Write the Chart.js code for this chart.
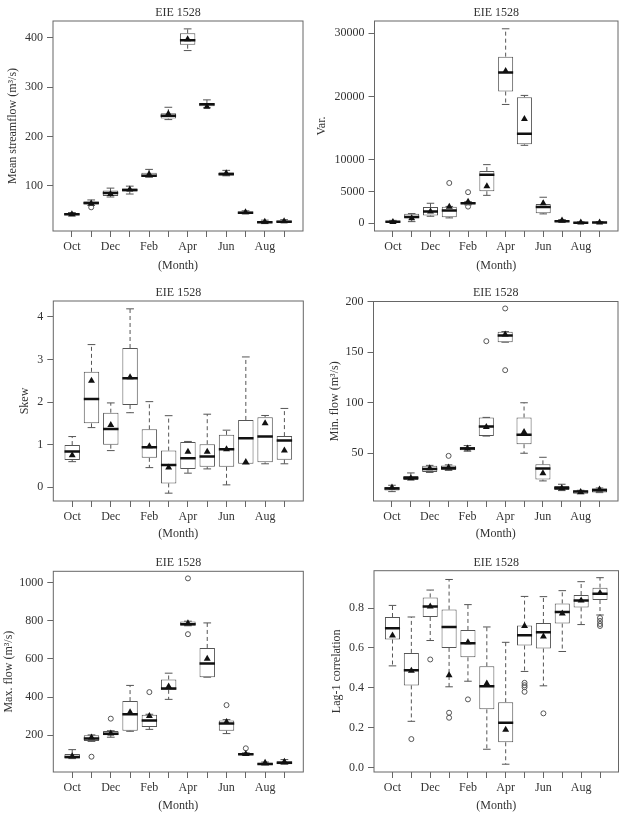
<!DOCTYPE html>
<html>
<head>
<meta charset="utf-8">
<script src="https://cdn.jsdelivr.net/npm/chart.js@4.4.1/dist/chart.umd.min.js"></script>
<style>
  body { margin: 0; background: #fff; width: 624px; height: 813px; position: relative; overflow: hidden; }
  canvas { position: absolute; }
</style>
</head>
<body>
<canvas id="pMean" width="312" height="273" style="left:0;top:0"></canvas>
<canvas id="pVar" width="312" height="273" style="left:312px;top:0"></canvas>
<canvas id="pSkew" width="312" height="270" style="left:0;top:271px"></canvas>
<canvas id="pMinf" width="312" height="270" style="left:312px;top:271px"></canvas>
<canvas id="pMaxf" width="312" height="271" style="left:0;top:542px"></canvas>
<canvas id="pLag" width="312" height="271" style="left:312px;top:542px"></canvas>
<script>
const months = ["Oct", "Nov", "Dec", "Jan", "Feb", "Mar", "Apr", "May", "Jun", "Jul", "Aug", "Sep"];
const monthTickLabels = ["Oct", "", "Dec", "", "Feb", "", "Apr", "", "Jun", "", "Aug", ""];

// mean streamflow
const meanMin = [38.5, 60, 77, 83, 117, 234, 374, 258, 120, 43, 23, 25];
const meanQ1 = [40, 62, 79, 88, 118, 236, 386, 261, 121, 43.5, 24, 25.5];
const meanMed = [42, 65, 85, 91, 120, 242, 395, 265, 123, 45, 26, 27];
const meanQ3 = [44, 68, 90, 94, 126, 247, 409, 267, 127, 47.5, 28, 29.5];
const meanMax = [45.5, 71, 95, 99, 133, 259, 418, 274, 131, 49, 30, 31];
const meanAvg = [42, 64, 83, 92, 123, 246, 397, 260, 125, 46, 27, 28];
const meanOut = [[1, 56]];
const meanTicks = [100, 200, 300, 400];

// variance
const varMin = [50, 250, 1100, 840, 2900, 4400, 18750, 12300, 1470, 150, 10, 20];
const varQ1 = [100, 780, 1200, 950, 3000, 5050, 20800, 12450, 1580, 200, 30, 50];
const varMed = [220, 1000, 1840, 2000, 3150, 7670, 23800, 14130, 2570, 320, 80, 100];
const varQ3 = [350, 1480, 2570, 2580, 3300, 8250, 26300, 19900, 3050, 420, 160, 180];
const varMax = [450, 1520, 3150, 2650, 3400, 9250, 30700, 20180, 4100, 580, 220, 250];
const varAvg = [200, 800, 1840, 2600, 3400, 5830, 24050, 16450, 3150, 430, 120, 130];
const varOut = [[3, 6350], [4, 4900], [4, 2620]];
const varTicks = [0, 5000, 10000, 20000, 30000];

// skew
const skewMin = [0.60, 1.40, 0.86, 1.75, 0.46, -0.14, 0.33, 0.43, 0.055, 0.54, 0.55, 0.55];
const skewQ1 = [0.64, 1.50, 1.00, 1.93, 0.69, 0.09, 0.43, 0.48, 0.48, 0.55, 0.585, 0.647];
const skewMed = [0.84, 2.07, 1.365, 2.56, 0.94, 0.52, 0.68, 0.72, 0.89, 1.15, 1.19, 1.10];
const skewQ3 = [0.99, 2.71, 1.75, 3.27, 1.36, 0.86, 1.06, 1.01, 1.23, 1.58, 1.645, 1.20];
const skewMax = [1.19, 3.35, 1.98, 4.19, 2.01, 1.68, 1.075, 1.715, 1.34, 3.06, 1.685, 1.85];
const skewAvg = [0.75, 2.50, 1.46, 2.58, 0.96, 0.46, 0.83, 0.83, 0.89, 0.59, 1.505, 0.86];
const skewOut = [];
const skewTicks = [0, 1, 2, 3, 4];

// min flow
const minfMin = [12, 23.6, 31, 33, 52, 67, 160, 50, 22.6, 13, 9.7, 11];
const minfQ1 = [13, 23.6, 31.5, 33.5, 53, 67, 160, 58.9, 23.9, 13.7, 10, 11];
const minfMed = [15, 25.6, 34.5, 35.5, 54.6, 76.4, 166.6, 68.2, 35, 15.6, 12, 13.3];
const minfQ3 = [16.6, 27.5, 37.5, 37.8, 56.3, 85.4, 170.3, 85.4, 39, 17.6, 13, 15.3];
const minfMax = [18.3, 30.5, 38, 38.5, 57.6, 85.5, 170.5, 100, 46, 19.3, 13.3, 15.6];
const minfAvg = [16, 25.2, 35.1, 35.8, 54.6, 76, 167.6, 71.1, 30.2, 15.3, 11.7, 14];
const minfOut = [[3, 47.4], [5, 161], [6, 193.4], [6, 132.3]];
const minfTicks = [50, 100, 150, 200];

// max flow
const maxfMin = [78, 168, 190, 221, 231, 388, 773, 504, 209, 95, 44, 48];
const maxfQ1 = [78.3, 170, 200, 224, 243, 438, 774, 504, 224, 96, 45, 49];
const maxfMed = [87, 183, 208, 310, 278, 445, 781, 576, 262, 101, 50, 57];
const maxfQ3 = [102.6, 200, 222, 379, 308, 492, 795, 657, 278, 106, 57, 64];
const maxfMax = [125, 202, 224, 461, 310, 525, 797, 788, 282, 108, 60, 73];
const maxfAvg = [90, 188, 209, 320, 301, 455, 786, 600, 270, 102.6, 57, 61];
const maxfOut = [[1, 88], [2, 287], [4, 426], [6, 1021], [6, 729], [8, 358], [9, 132]];
const maxfTicks = [200, 400, 600, 800, 1000];

// lag-1 correlation
const lagMin = [0.51, 0.232, 0.637, 0.405, 0.433, 0.092, 0.017, 0.482, 0.41, 0.582, 0.717, 0.765];
const lagQ1 = [0.642, 0.412, 0.755, 0.60, 0.553, 0.292, 0.127, 0.612, 0.597, 0.722, 0.803, 0.84];
const lagMed = [0.698, 0.488, 0.808, 0.705, 0.623, 0.408, 0.225, 0.663, 0.678, 0.78, 0.838, 0.872];
const lagQ3 = [0.755, 0.575, 0.853, 0.792, 0.69, 0.508, 0.328, 0.712, 0.725, 0.823, 0.865, 0.902];
const lagMax = [0.813, 0.755, 0.89, 0.943, 0.817, 0.705, 0.628, 0.858, 0.857, 0.887, 0.932, 0.952];
const lagAvg = [0.662, 0.485, 0.807, 0.463, 0.628, 0.422, 0.19, 0.71, 0.657, 0.772, 0.838, 0.875];
const lagOut = [[1, 0.143], [2, 0.542], [3, 0.275], [3, 0.25], [4, 0.342], [7, 0.425], [7, 0.413],
  [7, 0.403], [7, 0.38], [8, 0.272], [11, 0.75], [11, 0.735], [11, 0.72], [11, 0.71]];
const lagTicks = [0, 0.2, 0.4, 0.6, 0.8];

const TEXT = "#333";
const FRAME = "#666";
const BOXLINE = "#555";
const LH = 14.4;

Chart.defaults.font.family = '"Liberation Serif", "DejaVu Serif", serif';
Chart.defaults.font.size = 12;
Chart.defaults.color = TEXT;

const framePlugin = {
  id: "frame",
  afterDraw(chart) {
    const { ctx, chartArea: a } = chart;
    ctx.save();
    ctx.strokeStyle = FRAME;
    ctx.lineWidth = 1;
    ctx.strokeRect(a.left, a.top, a.right - a.left, a.bottom - a.top);
    ctx.restore();
  }
};

function vertSegments(from, to) {
  const d = [];
  months.forEach((m, i) => {
    d.push({ x: i, y: from[i] }, { x: i, y: to[i] }, { x: i, y: null });
  });
  return d;
}

function horizSegments(vals, half) {
  const d = [];
  months.forEach((m, i) => {
    d.push({ x: i - half, y: vals[i] }, { x: i + half, y: vals[i] }, { x: i, y: null });
  });
  return d;
}

function makePanel(p) {
  const W = 312;
  const segLine = (data, extra) => Object.assign({
    type: "line", data: data, borderColor: BOXLINE, borderWidth: 1,
    pointRadius: 0, fill: false, tension: 0, spanGaps: false
  }, extra);

  new Chart(document.getElementById(p.id), {
    type: "bar",
    data: {
      datasets: [
        segLine(vertSegments(p.q3, p.max), { borderDash: [4, 3], order: 6 }),
        segLine(vertSegments(p.q1, p.min), { borderDash: [4, 3], order: 6 }),
        segLine(horizSegments(p.max, 0.2), { order: 5 }),
        segLine(horizSegments(p.min, 0.2), { order: 5 }),
        {
          type: "bar",
          data: months.map((m, i) => ({ x: i, y: [p.q1[i], p.q3[i]] })),
          backgroundColor: "#fff",
          borderColor: BOXLINE,
          borderWidth: 1,
          borderSkipped: false,
          categoryPercentage: 0.8,
          barPercentage: 1,
          order: 4
        },
        segLine(horizSegments(p.med, 0.4), { borderColor: "#111", borderWidth: 2.5, order: 3 }),
        {
          type: "line", showLine: false,
          data: months.map((m, i) => ({ x: i, y: p.avg[i] })),
          pointStyle: "triangle", pointRadius: 4, pointBackgroundColor: "#111",
          pointBorderColor: "#111", pointBorderWidth: 0, order: 1
        },
        {
          type: "line", showLine: false,
          data: p.out.map(o => ({ x: o[0], y: o[1] })),
          pointStyle: "circle", pointRadius: 2.5, pointBackgroundColor: "rgba(0,0,0,0)",
          pointBorderColor: BOXLINE, pointBorderWidth: 1, order: 1
        }
      ]
    },
    options: {
      responsive: false,
      animation: false,
      events: [],
      layout: { padding: { left: 0, right: W - p.R, top: p.titleY - LH / 2, bottom: 0 } },
      plugins: {
        legend: { display: false },
        tooltip: { enabled: false },
        title: {
          display: true, text: "EIE 1528", fullSize: false, color: TEXT,
          font: { size: 12, weight: "normal" },
          padding: { top: 0, bottom: p.T - p.titleY - LH / 2 }
        }
      },
      scales: {
        x: {
          type: "linear", min: -0.98, max: 11.98, offset: false,
          afterBuildTicks: s => { s.ticks = months.map((m, i) => ({ value: i })); },
          afterFit: s => { s.height = p.H - p.B; },
          grid: { offset: false, drawOnChartArea: false, tickLength: 6, color: FRAME },
          border: { display: false },
          ticks: { autoSkip: false, maxRotation: 0, padding: 3, callback: v => monthTickLabels[v] },
          title: { display: true, text: "(Month)", padding: 0, font: { size: 12 } }
        },
        y: {
          min: p.yMin, max: p.yMax,
          afterBuildTicks: s => { s.ticks = p.ticks.map(v => ({ value: v })); },
          afterFit: s => { s.width = p.L; },
          grid: { drawOnChartArea: false, tickLength: 6, color: FRAME },
          border: { display: false },
          ticks: { padding: 4, callback: v => v.toFixed(p.dec) },
          title: { display: true, text: p.yTitle, padding: { top: p.yTitleX - LH / 2, bottom: 0 }, font: { size: 12 } }
        }
      }
    },
    plugins: [framePlugin]
  });
}

makePanel({ id: "pMean", yTitle: "Mean streamflow (m\u00B3/s)", yMin: 8, yMax: 434, ticks: meanTicks, dec: 0,
  min: meanMin, q1: meanQ1, med: meanMed, q3: meanQ3, max: meanMax, avg: meanAvg, out: meanOut,
  L: 53, R: 303, T: 21, B: 231, H: 273, titleY: 13, yTitleX: 13.3 });
makePanel({ id: "pVar", yTitle: "Var.", yMin: -1230, yMax: 31930, ticks: varTicks, dec: 0,
  min: varMin, q1: varQ1, med: varMed, q3: varQ3, max: varMax, avg: varAvg, out: varOut,
  L: 62.5, R: 306, T: 21, B: 231, H: 273, titleY: 13, yTitleX: 10 });
makePanel({ id: "pSkew", yTitle: "Skew", yMin: -0.324, yMax: 4.374, ticks: skewTicks, dec: 0,
  min: skewMin, q1: skewQ1, med: skewMed, q3: skewQ3, max: skewMax, avg: skewAvg, out: skewOut,
  L: 53.3, R: 303.3, T: 30, B: 230, H: 270, titleY: 21.7, yTitleX: 25 });
makePanel({ id: "pMinf", yTitle: "Min. flow (m\u00B3/s)", yMin: 2.7, yMax: 200.3, ticks: minfTicks, dec: 0,
  min: minfMin, q1: minfQ1, med: minfMed, q3: minfQ3, max: minfMax, avg: minfAvg, out: minfOut,
  L: 61.5, R: 306, T: 30.5, B: 230, H: 270, titleY: 21.7, yTitleX: 23 });
makePanel({ id: "pMaxf", yTitle: "Max. flow (m\u00B3/s)", yMin: 8, yMax: 1058, ticks: maxfTicks, dec: 0,
  min: maxfMin, q1: maxfQ1, med: maxfMed, q3: maxfQ3, max: maxfMax, avg: maxfAvg, out: maxfOut,
  L: 53.3, R: 303.3, T: 29.3, B: 230, H: 271, titleY: 20.7, yTitleX: 9.3 });
makePanel({ id: "pLag", yTitle: "Lag-1 correlation", yMin: -0.022, yMax: 0.987, ticks: lagTicks, dec: 1,
  min: lagMin, q1: lagQ1, med: lagMed, q3: lagQ3, max: lagMax, avg: lagAvg, out: lagOut,
  L: 62, R: 306.5, T: 28.7, B: 230, H: 271, titleY: 20.7, yTitleX: 25 });
</script>
</body>
</html>
